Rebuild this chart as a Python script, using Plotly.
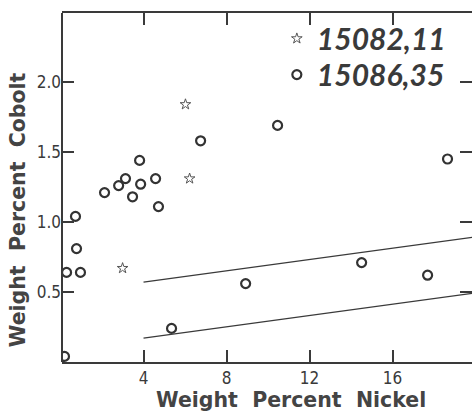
import plotly.graph_objects as go

# ---- data ----
star_name = "15082,11"
star_x = [6.02, 6.22, 2.99]
star_y = [1.84, 1.31, 0.67]

circ_name = "15086,35"
circ_x = [6.75, 3.81, 3.13, 2.80, 2.12, 3.86, 3.47, 4.58, 4.72, 0.72, 0.77, 0.29, 0.96,
          5.35, 0.19, 10.46, 18.65, 8.92, 14.51, 17.69]
circ_y = [1.58, 1.44, 1.31, 1.26, 1.21, 1.27, 1.18, 1.31, 1.11, 1.04, 0.81, 0.64, 0.64,
          0.24, 0.04, 1.69, 1.45, 0.56, 0.71, 0.62]

band_x = [4, 20]
upper_y = [0.57, 0.894]
lower_y = [0.17, 0.494]

x_ticks = [4, 8, 12, 16]
y_ticks = [0.5, 1.0, 1.5, 2.0]
y_labels = ["0.5", "1.0", "1.5", "2.0"]

ink = "#3a3a3a"
tick_font = dict(family="DejaVu Sans Condensed, Liberation Sans Narrow, sans-serif",
                 size=17, color=ink)
title_font = dict(family="DejaVu Sans, sans-serif", size=20.5, color="#444", weight="bold")
legend_font = dict(family="Lato, DejaVu Sans, sans-serif", size=30, color=ink,
                   weight="bold", style="italic")

fig = go.Figure()
fig.add_trace(go.Scatter(x=band_x, y=upper_y, mode="lines", line=dict(color=ink, width=1.2),
                         showlegend=False, hoverinfo="skip"))
fig.add_trace(go.Scatter(x=band_x, y=lower_y, mode="lines", line=dict(color=ink, width=1.2),
                         showlegend=False, hoverinfo="skip"))
fig.add_trace(go.Scatter(x=star_x, y=star_y, mode="markers", name=star_name, legend="legend",
                         marker=dict(symbol="star-open", size=8, color="#555",
                                     line=dict(width=1, color="#555"))))
fig.add_trace(go.Scatter(x=circ_x, y=circ_y, mode="markers", name=circ_name, legend="legend2",
                         marker=dict(symbol="circle-open", size=9, color="#333",
                                     line=dict(width=2.2, color="#333"))))

fig.update_layout(
    width=472, height=413,
    margin=dict(l=62, r=0, t=13, b=51),
    paper_bgcolor="white", plot_bgcolor="white",
    showlegend=True,
    legend=dict(x=0.524, y=1.0014, xanchor="left", yanchor="top",
                bgcolor="rgba(0,0,0,0)", font=legend_font, itemsizing="trace"),
    legend2=dict(x=0.524, y=0.898, xanchor="left", yanchor="top",
                 bgcolor="rgba(0,0,0,0)", font=legend_font, itemsizing="trace"),
    xaxis=dict(range=[0.07, 19.83], tickvals=x_ticks, ticks="inside", ticklen=12, tickwidth=2,
               tickcolor=ink, showline=True, linecolor=ink, linewidth=2, mirror="ticks",
               showgrid=False, zeroline=False, tickfont=tick_font),
    yaxis=dict(range=[0, 2.493], tickvals=y_ticks, ticktext=y_labels, ticks="inside",
               ticklen=12, tickwidth=2, tickcolor=ink, showline=False, mirror="ticks",
               showgrid=False, zeroline=False, tickfont=tick_font),
    shapes=[dict(type="line", xref="paper", yref="paper", x0=0, x1=0, y0=0, y1=1,
                 line=dict(color=ink, width=2))],
    annotations=[
        dict(text="Weight  Percent  Nickel", xref="paper", yref="paper", x=0.559, y=-0.148,
             xanchor="center", yanchor="bottom", showarrow=False, font=title_font),
        dict(text="Weight  Percent  Cobolt", xref="paper", yref="paper", x=-0.143, y=0.436,
             xanchor="left", yanchor="middle", textangle=-90, showarrow=False,
             font=title_font),
    ],
)

fig.write_html("out.html")
